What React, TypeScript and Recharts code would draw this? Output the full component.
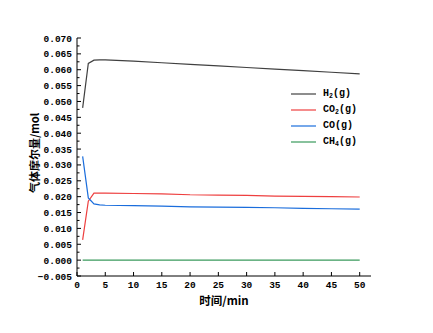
import React from 'react';
import { LineChart, Line, XAxis, YAxis, Legend } from 'recharts';

const times = [1, 2, 3, 4, 5, 10, 15, 20, 25, 30, 35, 40, 45, 50];
const h2 = [0.048, 0.0620, 0.0630, 0.0631, 0.0631, 0.0627, 0.0622, 0.0617, 0.0612, 0.0607, 0.0602, 0.0597, 0.0592, 0.0587];
const co2 = [0.0064, 0.0186, 0.0211, 0.0211, 0.0211, 0.0210, 0.0209, 0.0206, 0.0205, 0.0204, 0.0202, 0.0201, 0.0200, 0.0199];
const co = [0.0327, 0.0196, 0.0177, 0.0174, 0.0173, 0.0172, 0.0170, 0.0168, 0.0167, 0.0166, 0.0165, 0.0163, 0.0162, 0.0161];
const ch4 = [0, 0, 0, 0, 0, 0, 0, 0, 0, 0, 0, 0, 0, 0];

const xTicks = [0, 5, 10, 15, 20, 25, 30, 35, 40, 45, 50];
const yTicks = [-0.005, -0.0025, 0, 0.0025, 0.005, 0.0075, 0.01, 0.0125, 0.015, 0.0175, 0.02, 0.0225, 0.025, 0.0275, 0.03, 0.0325, 0.035, 0.0375, 0.04, 0.0425, 0.045, 0.0475, 0.05, 0.0525, 0.055, 0.0575, 0.06, 0.0625, 0.065, 0.0675, 0.07];

const series = [
  { key: 'h2', name: 'H', sub: '2', color: '#404040', values: h2 },
  { key: 'co2', name: 'CO', sub: '2', color: '#ee3f3f', values: co2 },
  { key: 'co', name: 'CO', sub: '', color: '#1a6ddc', values: co },
  { key: 'ch4', name: 'CH', sub: '4', color: '#3a9a5c', values: ch4 },
];

const data = times.map((t, i) => {
  const row: any = { t };
  series.forEach((s) => (row[s.key] = s.values[i]));
  return row;
});

const tickFont = { fontFamily: '"Liberation Mono", monospace', fontWeight: 700, fontSize: 9.5, fill: '#000' };

const YTick = (props: any) => {
  const { x, y, payload } = props;
  const v = payload.value as number;
  const idx = Math.round((v + 0.005) / 0.0025);
  const major = idx % 2 === 0;
  const ax = x + 5;
  const label = v < 0 ? '\u2212' + Math.abs(v).toFixed(3) : v.toFixed(3);
  return (
    <g>
      <line x1={ax} x2={ax + (major ? 4 : 2.5)} y1={y} y2={y} stroke="#000" strokeWidth={1} />
      {major && (
        <text x={x} y={y} dy={3.5} textAnchor="end" {...tickFont}>
          {label}
        </text>
      )}
    </g>
  );
};

const XTick = (props: any) => {
  const { x, y, payload } = props;
  const ay = y - 5;
  return (
    <g>
      <line x1={x} x2={x} y1={ay} y2={ay - 4} stroke="#000" strokeWidth={1} />
      <text x={x} y={y} dy={7} textAnchor="middle" {...tickFont}>
        {payload.value}
      </text>
    </g>
  );
};

const LegendBox = () => (
  <div style={{ fontFamily: '"Liberation Mono", monospace', fontWeight: 700, fontSize: 10, color: '#000' }}>
    {series.map((s) => (
      <div key={s.key} style={{ display: 'flex', alignItems: 'center', height: 15.9 }}>
        <svg width={25} height={4} style={{ marginRight: 7, flex: 'none' }}>
          <line x1={0} x2={25} y1={2} y2={2} stroke={s.color} strokeWidth={1.2} />
        </svg>
        <span style={{ whiteSpace: 'nowrap' }}>
          {s.name}
          {s.sub && <sub style={{ fontSize: 6.5, verticalAlign: -2 }}>{s.sub}</sub>}
          (g)
        </span>
      </div>
    ))}
  </div>
);

export default function App() {
  return (
    <LineChart width={425} height={325} data={data} margin={{ top: 30, right: 62, bottom: 17, left: 9 }}>
      <XAxis
        dataKey="t"
        type="number"
        domain={[0, 52]}
        ticks={xTicks}
        interval={0}
        tickLine={false}
        tickSize={0}
        tickMargin={5}
        tick={<XTick />}
        height={40}
        stroke="#000"
        label={{
          content: (p: any) => {
            const vb = p.viewBox;
            return (
              <text x={vb.x + vb.width / 2} y={vb.y + 28.5} textAnchor="middle" fontFamily='"Noto Sans CJK SC"' fontWeight={700} fontSize={11.5} fill="#000">
                时间/min
              </text>
            );
          },
        }}
      />
      <XAxis xAxisId="top" orientation="top" dataKey="t" type="number" domain={[0, 52]} tick={false} tickLine={false} height={0} stroke="#000" />
      <YAxis
        type="number"
        domain={[-0.005, 0.07]}
        ticks={yTicks}
        interval={0}
        tickLine={false}
        tickSize={0}
        tickMargin={5}
        tick={<YTick />}
        width={60}
        stroke="#000"
        label={{
          content: (p: any) => {
            const vb = p.viewBox;
            const cx = vb.x + 18;
            const cy = vb.y + vb.height / 2 - 4;
            return (
              <text x={cx} y={cy} dy={4} textAnchor="middle" transform={`rotate(-90, ${cx}, ${cy})`} fontFamily='"Noto Sans CJK SC"' fontWeight={700} fontSize={11} fill="#000">
                气体摩尔量/mol
              </text>
            );
          },
        }}
      />
      <YAxis yAxisId="right" orientation="right" type="number" domain={[-0.005, 0.07]} tick={false} tickLine={false} width={0} stroke="#000" />
      <Legend
        verticalAlign="middle"
        align="center"
        layout="vertical"
        content={<LegendBox />}
        wrapperStyle={{ position: 'absolute', left: 283, top: 78, width: 100 }}
      />
      {series.map((s) => (
        <Line
          key={s.key}
          dataKey={s.key}
          name={s.name}
          stroke={s.color}
          strokeWidth={1.2}
          dot={false}
          activeDot={false}
          isAnimationActive={false}
          type="linear"
        />
      ))}
    </LineChart>
  );
}
